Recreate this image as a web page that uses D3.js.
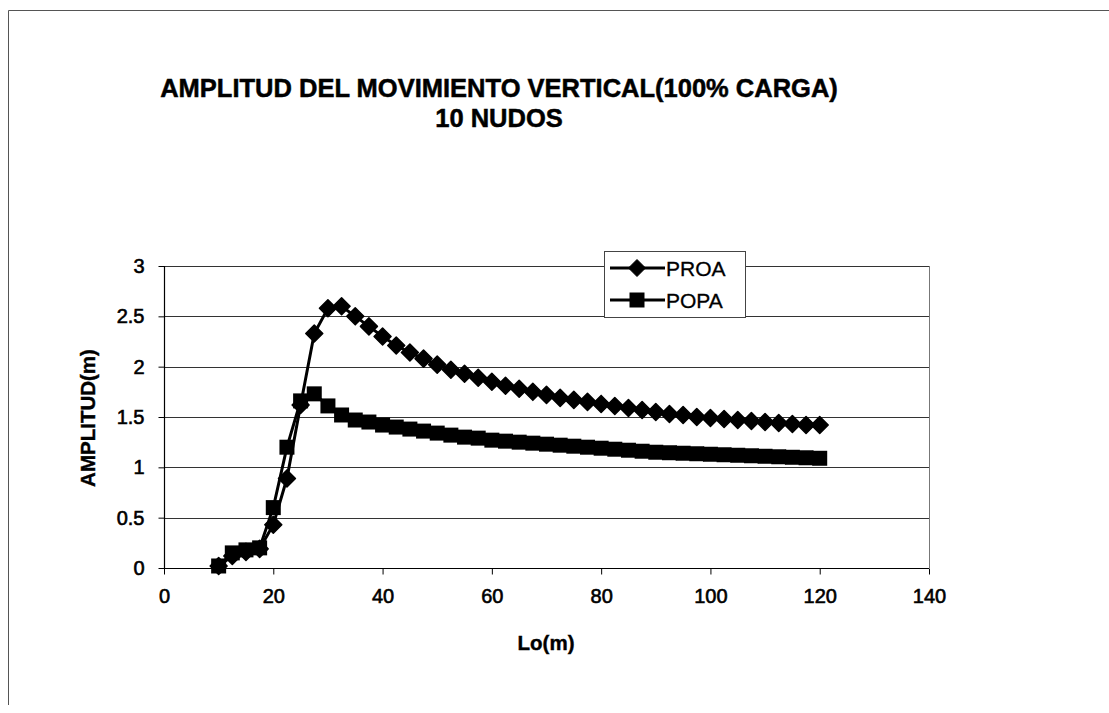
<!DOCTYPE html>
<html>
<head>
<meta charset="utf-8">
<script src="https://cdn.jsdelivr.net/npm/d3@7"></script>
<style>
  html, body { margin: 0; padding: 0; background: #fff; }
  svg { display: block; }
  text { font-family: "Liberation Sans", Arial, sans-serif; fill: #000; }
</style>
</head>
<body>
<svg id="chart" width="1109" height="713"></svg>
<script>
// Wave length Lo (m)
const lo = [10, 12.5, 15, 17.5, 20, 22.5, 25, 27.5, 30, 32.5, 35, 37.5, 40, 42.5, 45, 47.5,
  50, 52.5, 55, 57.5, 60, 62.5, 65, 67.5, 70, 72.5, 75, 77.5, 80, 82.5, 85, 87.5, 90, 92.5,
  95, 97.5, 100, 102.5, 105, 107.5, 110, 112.5, 115, 117.5, 120];

// Vertical motion amplitude at the bow (m)
const proa = [0.02, 0.12, 0.16, 0.19, 0.43, 0.89, 1.62, 2.33, 2.58, 2.60, 2.50, 2.40, 2.30, 2.21,
  2.14, 2.08, 2.02, 1.97, 1.93, 1.89, 1.85, 1.81, 1.78, 1.75, 1.72, 1.69, 1.67, 1.65, 1.63,
  1.61, 1.59, 1.57, 1.55, 1.53, 1.52, 1.50, 1.49, 1.48, 1.47, 1.46, 1.45, 1.44, 1.43, 1.42, 1.42];

// Vertical motion amplitude at the stern (m)
const popa = [0.02, 0.15, 0.18, 0.20, 0.60, 1.20, 1.66, 1.73, 1.61, 1.52, 1.47, 1.45, 1.42, 1.40,
  1.38, 1.36, 1.34, 1.32, 1.30, 1.29, 1.27, 1.26, 1.25, 1.24, 1.23, 1.22, 1.21, 1.20, 1.19,
  1.18, 1.17, 1.16, 1.15, 1.145, 1.14, 1.135, 1.13, 1.125, 1.12, 1.115, 1.11, 1.105, 1.10, 1.095, 1.09];

const xTicks = [0, 20, 40, 60, 80, 100, 120, 140];
const yTicks = [0, 0.5, 1, 1.5, 2, 2.5, 3];
const seriesNames = ["PROA", "POPA"];
const titleLines = ["AMPLITUD DEL MOVIMIENTO VERTICAL(100% CARGA)", "10 NUDOS"];

const svg = d3.select("#chart");
const plot = { left: 164, right: 929, top: 266, bottom: 568 };

const x = d3.scaleLinear().domain([0, 140]).range([plot.left, plot.right]);
const y = d3.scaleLinear().domain([0, 3]).range([plot.bottom, plot.top]);

// Outer chart frame (top and left edges)
svg.append("path")
  .attr("d", "M8.5,705 L8.5,10.5 L1109,10.5")
  .attr("fill", "none").attr("stroke", "#555").attr("stroke-width", 1);

// Title
svg.append("g").selectAll("text").data(titleLines).join("text")
  .attr("x", 499).attr("y", (d, i) => 97 + i * 30).attr("text-anchor", "middle")
  .attr("font-size", 25.5).attr("font-weight", "bold")
  .attr("stroke", "#000").attr("stroke-width", 0.5)
  .text(d => d);

// Horizontal gridlines
svg.append("g").selectAll("line").data(yTicks.filter(d => d > 0)).join("line")
  .attr("x1", plot.left).attr("x2", plot.right)
  .attr("y1", d => Math.round(y(d)) + 0.5).attr("y2", d => Math.round(y(d)) + 0.5)
  .attr("stroke", "#333").attr("stroke-width", 1);

// Right edge of the plot area
svg.append("line")
  .attr("x1", plot.right + 0.5).attr("x2", plot.right + 0.5)
  .attr("y1", plot.top).attr("y2", plot.bottom)
  .attr("stroke", "#777").attr("stroke-width", 1);

// Axes
const xAxis = d3.axisBottom(x).tickValues(xTicks).tickSize(6).tickPadding(14).tickFormat(d3.format("d"));
const yAxis = d3.axisLeft(y).tickValues(yTicks).tickSize(6).tickPadding(14).tickFormat(d => String(d));

const gx = svg.append("g").attr("transform", `translate(0,${Math.round(plot.bottom) + 0.5})`).call(xAxis);
const gy = svg.append("g").attr("transform", `translate(${plot.left + 0.5},0)`).call(yAxis);
[gx, gy].forEach(g => {
  g.select(".domain").attr("stroke", "#000").attr("stroke-width", 1.2);
  g.selectAll(".tick line").attr("stroke", "#000");
  g.selectAll(".tick text")
    .attr("font-family", "'Liberation Sans', Arial, sans-serif")
    .attr("font-size", 20).attr("fill", "#000")
    .attr("stroke", "#000").attr("stroke-width", 0.6);
});
gx.select(".domain").attr("d", `M${plot.left},0H${plot.right}`);
gy.select(".domain").attr("d", `M0,${plot.bottom}V${plot.top}`);

// Axis titles
svg.append("text").attr("x", 546).attr("y", 650).attr("text-anchor", "middle")
  .attr("font-size", 20.5).attr("font-weight", "bold")
  .attr("stroke", "#000").attr("stroke-width", 0.4).text("Lo(m)");
svg.append("text").attr("transform", "translate(95,418) rotate(-90)").attr("text-anchor", "middle")
  .attr("font-size", 20.5).attr("font-weight", "bold")
  .attr("stroke", "#000").attr("stroke-width", 0.4).text("AMPLITUD(m)");

// Series
const proaData = lo.map((d, i) => ({ x: d, y: proa[i] }));
const popaData = lo.map((d, i) => ({ x: d, y: popa[i] }));
const line = d3.line().x(d => x(d.x)).y(d => y(d.y));

// Marker shapes: a rhombus for the bow series, a square for the stern series
const diamondPath = "M0,-8.5L8.5,0L0,8.5L-8.5,0Z";
const squarePath = "M-7.5,-7.5H7.5V7.5H-7.5Z";

svg.append("path").datum(proaData).attr("d", line)
  .attr("fill", "none").attr("stroke", "#000").attr("stroke-width", 3);
svg.append("g").selectAll("path").data(proaData).join("path")
  .attr("transform", d => `translate(${x(d.x)},${y(d.y)})`)
  .attr("d", diamondPath).attr("fill", "#000")
  .attr("stroke", "#000").attr("stroke-width", 1.5).attr("stroke-linejoin", "round");

svg.append("path").datum(popaData).attr("d", line)
  .attr("fill", "none").attr("stroke", "#000").attr("stroke-width", 3);
svg.append("g").selectAll("path").data(popaData).join("path")
  .attr("transform", d => `translate(${x(d.x)},${y(d.y)})`)
  .attr("d", squarePath).attr("fill", "#000");

// Legend
const legend = svg.append("g").attr("transform", "translate(604,251)");
legend.append("rect").attr("x", 0.5).attr("y", 0.5).attr("width", 141).attr("height", 66)
  .attr("fill", "#fff").attr("stroke", "#444").attr("stroke-width", 1);
const symbols = [diamondPath, squarePath];
seriesNames.forEach((name, i) => {
  const cy = 17 + i * 32;
  legend.append("line").attr("x1", 6).attr("x2", 61).attr("y1", cy).attr("y2", cy)
    .attr("stroke", "#000").attr("stroke-width", 3);
  legend.append("path").attr("transform", `translate(33,${cy})`)
    .attr("d", symbols[i]).attr("fill", "#000")
    .attr("stroke", "#000").attr("stroke-width", i === 0 ? 1 : 0).attr("stroke-linejoin", "round");
  legend.append("text").attr("x", 62).attr("y", cy + 7.5)
    .attr("font-size", 21).attr("stroke", "#000").attr("stroke-width", 0.3).text(name);
});
</script>
</body>
</html>
